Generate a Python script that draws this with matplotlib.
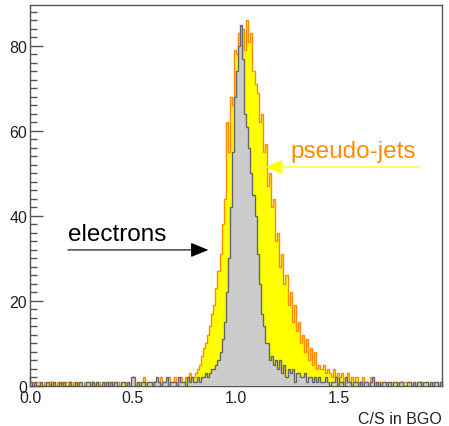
import matplotlib
matplotlib.use("Agg")
import matplotlib.pyplot as plt
from matplotlib.ticker import MultipleLocator
import numpy as np

plt.rcParams['font.family'] = ['Liberation Sans', 'DejaVu Sans']

# bin edges: 200 bins of C/S from 0 to 2
edges = np.linspace(0.0, 2.0, 201)

# electrons (counts per bin)
electrons = [
    1, 0, 1, 0, 0, 1, 0, 0, 1, 0,
    0, 1, 0, 0, 1, 0, 1, 0, 0, 1,
    0, 0, 1, 0, 1, 0, 0, 1, 1, 0,
    1, 0, 1, 0, 0, 1, 0, 1, 0, 1,
    0, 1, 0, 0, 1, 1, 0, 1, 0, 2,
    2, 0, 1, 0, 1, 1, 0, 1, 1, 0,
    1, 2, 1, 0, 1, 1, 2, 0, 1, 1,
    1, 0, 2, 1, 1, 0, 2, 1, 2, 1,
    1, 2, 1, 2, 2, 3, 2, 3, 4, 4,
    5, 6, 8, 11, 15, 22, 30, 42, 55, 68,
    74, 80, 85, 77, 64, 61, 56, 50, 45, 40,
    31, 24, 17, 14, 10, 10, 6, 7, 5, 6,
    4, 6, 3, 5, 2, 4, 3, 4, 1, 3,
    3, 2, 2, 3, 1, 2, 2, 1, 2, 1,
    2, 1, 1, 2, 1, 0, 1, 1, 2, 0,
    1, 1, 0, 2, 1, 1, 0, 1, 1, 0,
    1, 0, 1, 1, 0, 1, 2, 0, 1, 0,
    0, 1, 1, 0, 1, 0, 1, 1, 0, 1,
    1, 0, 0, 1, 1, 0, 1, 0, 1, 1,
    0, 1, 1, 0, 1, 0, 1, 1, 0, 1,
]

# pseudo-jets
pseudo_jets = [
    0, 1, 0, 1, 1, 0, 0, 1, 0, 1,
    1, 0, 0, 1, 0, 1, 0, 1, 1, 0,
    0, 1, 0, 1, 0, 0, 1, 0, 1, 0,
    1, 0, 1, 1, 0, 0, 1, 0, 1, 1,
    0, 1, 1, 0, 1, 0, 1, 1, 0, 1,
    1, 0, 1, 1, 0, 2, 1, 0, 1, 1,
    1, 1, 0, 2, 1, 1, 1, 2, 1, 1,
    2, 1, 1, 2, 1, 2, 1, 3, 2, 2,
    3, 4, 5, 7, 9, 10, 12, 14, 17, 19,
    23, 27, 31, 38, 44, 62, 55, 68, 66, 79,
    78, 83, 76, 84, 79, 86, 81, 83, 74, 71,
    69, 62, 64, 55, 57, 47, 50, 42, 44, 34,
    36, 28, 31, 24, 26, 19, 22, 15, 19, 13,
    15, 10, 12, 8, 11, 6, 9, 5, 8, 4,
    5, 4, 5, 3, 4, 3, 2, 4, 2, 3,
    2, 3, 1, 2, 3, 1, 2, 1, 2, 1,
    1, 2, 1, 1, 0, 2, 1, 1, 0, 1,
    1, 0, 1, 1, 0, 1, 1, 0, 1, 0,
    0, 1, 1, 0, 1, 0, 1, 0, 1, 1,
    1, 0, 1, 0, 0, 1, 0, 1, 0, 1,
]

W, H = 449, 427
fig = plt.figure(figsize=(W / 100, H / 100), dpi=100)
ax = fig.add_axes([30 / W, 40 / H, 412 / W, 381 / H])

# pseudo-jets: yellow fill, orange outline
ax.stairs(pseudo_jets, edges, fill=True, color="#ffff00", zorder=1)
ax.stairs(pseudo_jets, edges, color="#ff8c00", lw=1.0, zorder=2)
# electrons: light grey fill, dark grey outline
ax.stairs(electrons, edges, fill=True, color="#cccccc", zorder=3)
ax.stairs(electrons, edges, color="#666666", lw=1.0, zorder=4)

ax.set_xlim(0, 2.0)
ax.set_ylim(0, 89.6)

# ROOT-like axes
for s in ax.spines.values():
    s.set_color("#555555")
    s.set_linewidth(1.0)
ax.xaxis.set_major_locator(MultipleLocator(0.5))
ax.xaxis.set_minor_locator(MultipleLocator(0.1))
ax.yaxis.set_major_locator(MultipleLocator(20))
ax.yaxis.set_minor_locator(MultipleLocator(2))
ax.tick_params(which="both", direction="in", color="#555555", width=1.0,
               labelsize=11.5, labelcolor="#222222")
ax.tick_params(axis="y", which="major", length=9.5, pad=2)
ax.tick_params(axis="y", which="minor", length=4.8)
ax.tick_params(axis="x", which="major", length=7, pad=3)
ax.tick_params(axis="x", which="minor", length=3.5)
ax.set_xticks([0.0, 0.5, 1.0, 1.5])
ax.set_xticklabels(["0.0", "0.5", "1.0", "1.5"])

ax.set_xlabel("C/S in BGO", fontsize=11.5, color="#222222", loc="right", labelpad=4)

# annotations
ax.annotate("", xy=(0.866, 32.0), xytext=(0.184, 32.0),
            arrowprops=dict(arrowstyle="-|>,head_length=1.1,head_width=0.45",
                            color="black", lw=0.8, shrinkA=0, shrinkB=0), zorder=6)
ax.text(0.184, 33.2, "electrons", fontsize=17.5, color="black", va="bottom", ha="left", zorder=6)

ax.annotate("", xy=(1.141, 51.5), xytext=(1.893, 51.5),
            arrowprops=dict(arrowstyle="-|>,head_length=1.1,head_width=0.45",
                            color="#ffff00", lw=0.8, shrinkA=0, shrinkB=0), zorder=6)
ax.text(1.262, 52.6, "pseudo-jets", fontsize=17.5, color="#ff8c00", va="bottom", ha="left", zorder=6)

fig.savefig("out.png", dpi=100)
